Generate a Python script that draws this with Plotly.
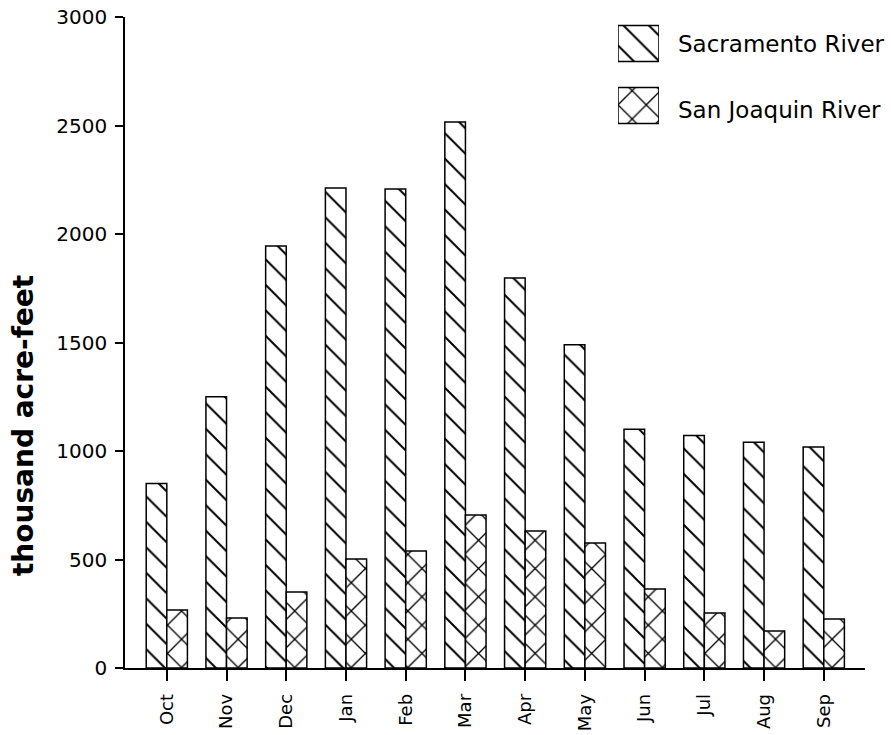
import plotly.graph_objects as go

months = ["Oct", "Nov", "Dec", "Jan", "Feb", "Mar", "Apr", "May", "Jun", "Jul", "Aug", "Sep"]
sacramento = [850, 1250, 1945, 2212, 2207, 2516, 1797, 1490, 1100, 1072, 1040, 1018]
san_joaquin = [267, 230, 350, 502, 539, 705, 631, 576, 364, 253, 170, 226]
series_names = ["Sacramento River", "San Joaquin River"]
y_ticks = [0, 500, 1000, 1500, 2000, 2500, 3000]
y_title = "thousand acre-feet"

FONT = "DejaVu Sans"
LINE = dict(color="black", width=1.5)
PAT_S = dict(shape="\\", fgcolor="black", bgcolor="white", fgopacity=1, size=18, solidity=0.11)
PAT_J = dict(shape="x", fgcolor="black", bgcolor="white", fgopacity=1, size=20, solidity=0.13)

fig = go.Figure()
fig.add_trace(go.Bar(x=months, y=sacramento, name=series_names[0],
                     marker=dict(color="white", line=LINE, pattern=PAT_S), showlegend=False))
fig.add_trace(go.Bar(x=months, y=san_joaquin, name=series_names[1],
                     marker=dict(color="white", line=LINE, pattern=PAT_J), showlegend=False))

# legend key: one unit-length swatch per series on a small inset axis
for name, pat in zip(series_names, [PAT_S, PAT_J]):
    fig.add_trace(go.Bar(y=[name], x=[1], orientation="h", xaxis="x2", yaxis="y2",
                         offsetgroup="key", width=0.58, showlegend=False, hoverinfo="skip",
                         marker=dict(color="white", line=LINE, pattern=pat)))

# legend text
for name, ypos in zip(series_names, [0.9585, 0.8571]):
    fig.add_annotation(text=name, xref="paper", yref="paper", x=0.744, y=ypos,
                       xanchor="left", yanchor="middle", showarrow=False,
                       font=dict(size=23, family=FONT, color="black"))

# y-axis title (sits below the axis midpoint in the original)
fig.add_annotation(text=y_title, xref="paper", yref="paper", x=-0.138, y=0.373,
                   xanchor="center", yanchor="middle", textangle=-90, showarrow=False,
                   font=dict(size=28, family=FONT, color="black", weight="bold"))

fig.update_layout(
    width=891, height=735,
    margin=dict(l=125, r=26, t=17, b=67, autoexpand=False),
    paper_bgcolor="white", plot_bgcolor="white",
    barmode="group", bargap=0.31, bargroupgap=0,
    font=dict(family=FONT, color="black"),
    showlegend=False,
    xaxis=dict(range=[-0.70, 11.69], showline=True, linecolor="black", linewidth=1.5,
               ticks="outside", ticklen=11, tickwidth=1.5, tickcolor="black",
               tickangle=-90, tickfont=dict(size=18, family=FONT),
               ticklabelstandoff=6, showgrid=False, zeroline=False, automargin=False),
    yaxis=dict(range=[0, 3000], tickvals=y_ticks, showline=True, linecolor="black", linewidth=1.5,
               ticks="outside", ticklen=8, tickwidth=1.5, tickcolor="black",
               tickfont=dict(size=20, family=FONT), ticklabelstandoff=4,
               ticklabeloverflow="allow",
               showgrid=False, zeroline=False, automargin=False),
    xaxis2=dict(domain=[0.6662, 0.7216], range=[0, 1], anchor="y2", visible=False, fixedrange=True),
    yaxis2=dict(domain=[0.8264, 0.9954], range=[1.395, -0.379], anchor="x2", visible=False,
                type="category", categoryorder="array", categoryarray=series_names, fixedrange=True),
)

fig.write_html("out.html", config={"displayModeBar": False},
               post_script="document.body.style.margin='0';document.body.style.overflow='hidden';")
